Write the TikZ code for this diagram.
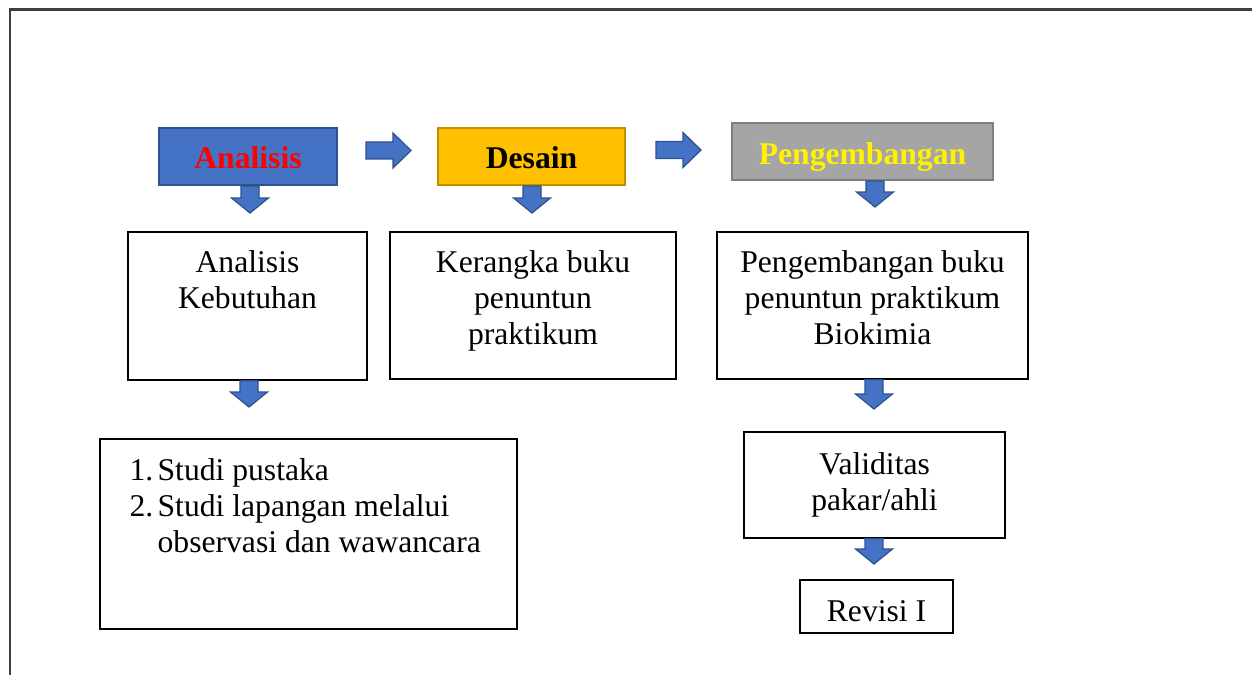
\documentclass[tikz,border=0pt]{standalone}
\usepackage{fontspec}
\setmainfont{Liberation Serif}
\usetikzlibrary{positioning,calc}

\definecolor{HeadBlue}{HTML}{4472C4}
\definecolor{HeadBlueLine}{HTML}{2F528F}
\definecolor{HeadGold}{HTML}{FFC000}
\definecolor{HeadGoldLine}{HTML}{BF9000}
\definecolor{HeadGray}{HTML}{A5A5A5}
\definecolor{HeadGrayLine}{HTML}{7F7F7F}
\definecolor{FrameGray}{HTML}{404040}

\tikzset{
	head/.style={minimum height=1.14cm, inner sep=0pt, line width=1.2pt, text height=0.5cm, text depth=0pt, font=\fontsize{18}{20.5}\selectfont\bfseries},
	box/.style={draw=black, line width=0.8pt, inner sep=0pt},
	boxtext/.style={inner sep=0pt, align=center, font=\fontsize{18}{20.5}\selectfont},
	blockarrow/.style={draw=HeadBlueLine, fill=HeadBlue, line width=0.7pt, line join=miter},
	blockdown/.style={to path={let \p1=(\tikztostart), \p2=(\tikztotarget) in
		(\x2-0.18cm,\y1) -- (\x2+0.18cm,\y1) -- (\x2+0.18cm,\y2+0.3cm) -- (\x2+0.37cm,\y2+0.3cm)
		-- (\x2,\y2) -- (\x2-0.37cm,\y2+0.3cm) -- (\x2-0.18cm,\y2+0.3cm) -- cycle}},
	blockright/.style={to path={let \p1=(\tikztostart), \p2=(\tikztotarget) in
		(\x1,\y1-0.17cm) -- (\x2-0.36cm,\y1-0.17cm) -- (\x2-0.36cm,\y1-0.35cm) -- (\x2,\y1)
		-- (\x2-0.36cm,\y1+0.35cm) -- (\x2-0.36cm,\y1+0.17cm) -- (\x1,\y1+0.17cm) -- cycle}}
}

\begin{document}
\begin{tikzpicture}
	\useasboundingbox (0,0) rectangle (25.04,13.5);
	\draw[line width=1.5pt, FrameGray] (0.2,0) -- (0.2,13.31) -- (25.04,13.31);
	
	% Define Analisis
	\node[head, fill=HeadBlue, draw=HeadBlueLine, text=red, minimum width=3.56cm] (Analisis) at (4.96,10.37) {Analisis};
	\node[box, minimum width=4.78cm, minimum height=2.96cm] (Kebutuhan) at (4.95,7.38) {};
	\node[boxtext, below=0.37cm of Kebutuhan.north] (TextKebutuhan) {Analisis\\Kebutuhan};
	\node[box, minimum width=8.34cm, minimum height=3.8cm] (Studi) at (6.17,2.82) {};
	\node[boxtext, align=left, below right=0.39cm and 0.6cm of Studi.north west] (TextStudi) {\makebox[0.56cm][l]{1.}Studi pustaka\\\makebox[0.56cm][l]{2.}Studi lapangan melalui\\\hspace*{0.56cm}observasi dan wawancara};
	\coordinate (TipAnalisis) at (5.0,9.24);
	\coordinate (TipKebutuhan) at (4.98,5.36);
	
	\draw[blockarrow] (Analisis.south) to[blockdown] (TipAnalisis);
	\draw[blockarrow] (Kebutuhan.south) to[blockdown] (TipKebutuhan);
	
	% Define Desain
	\node[head, fill=HeadGold, draw=HeadGoldLine, minimum width=3.74cm] (Desain) at (10.63,10.37) {Desain};
	\node[box, minimum width=5.72cm, minimum height=2.94cm] (Kerangka) at (10.66,7.39) {};
	\node[boxtext, below=0.37cm of Kerangka.north] (TextKerangka) {Kerangka buku\\penuntun\\praktikum};
	\coordinate (TipDesain) at (10.64,9.24);
	\coordinate (TailAD) at (7.32,10.49);
	\coordinate (TipAD) at (8.22,10.49);
	
	\draw[blockarrow] (Desain.south) to[blockdown] (TipDesain);
	\draw[blockarrow] (TailAD) to[blockright] (TipAD);
	
	% Define Pengembangan
	\node[head, fill=HeadGray, draw=HeadGrayLine, text=yellow, minimum width=5.22cm] (Pengembangan) at (17.25,10.47) {Pengembangan};
	\node[box, minimum width=6.22cm, minimum height=2.94cm] (Biokimia) at (17.45,7.39) {};
	\node[boxtext, below=0.37cm of Biokimia.north] (TextBiokimia) {Pengembangan buku\\penuntun praktikum\\Biokimia};
	\node[box, minimum width=5.22cm, minimum height=2.12cm] (Validitas) at (17.49,3.8) {};
	\node[boxtext, below=0.41cm of Validitas.north] (TextValiditas) {Validitas\\pakar/ahli};
	\node[box, minimum width=3.06cm, minimum height=1.06cm] (Revisi) at (17.53,1.37) {};
	\node[boxtext, below=0.41cm of Revisi.north] (TextRevisi) {Revisi I};
	\coordinate (TailDP) at (13.12,10.5);
	\coordinate (TipDP) at (14.02,10.5);
	\coordinate (TipPengembangan) at (17.5,9.36);
	\coordinate (TipBiokimia) at (17.48,5.32);
	\coordinate (TipValiditas) at (17.48,2.22);
	
	\draw[blockarrow] (TailDP) to[blockright] (TipDP);
	\draw[blockarrow] (Pengembangan.south) to[blockdown] (TipPengembangan);
	\draw[blockarrow] (Biokimia.south) to[blockdown] (TipBiokimia);
	\draw[blockarrow] (Validitas.south) to[blockdown] (TipValiditas);
\end{tikzpicture}
\end{document}
